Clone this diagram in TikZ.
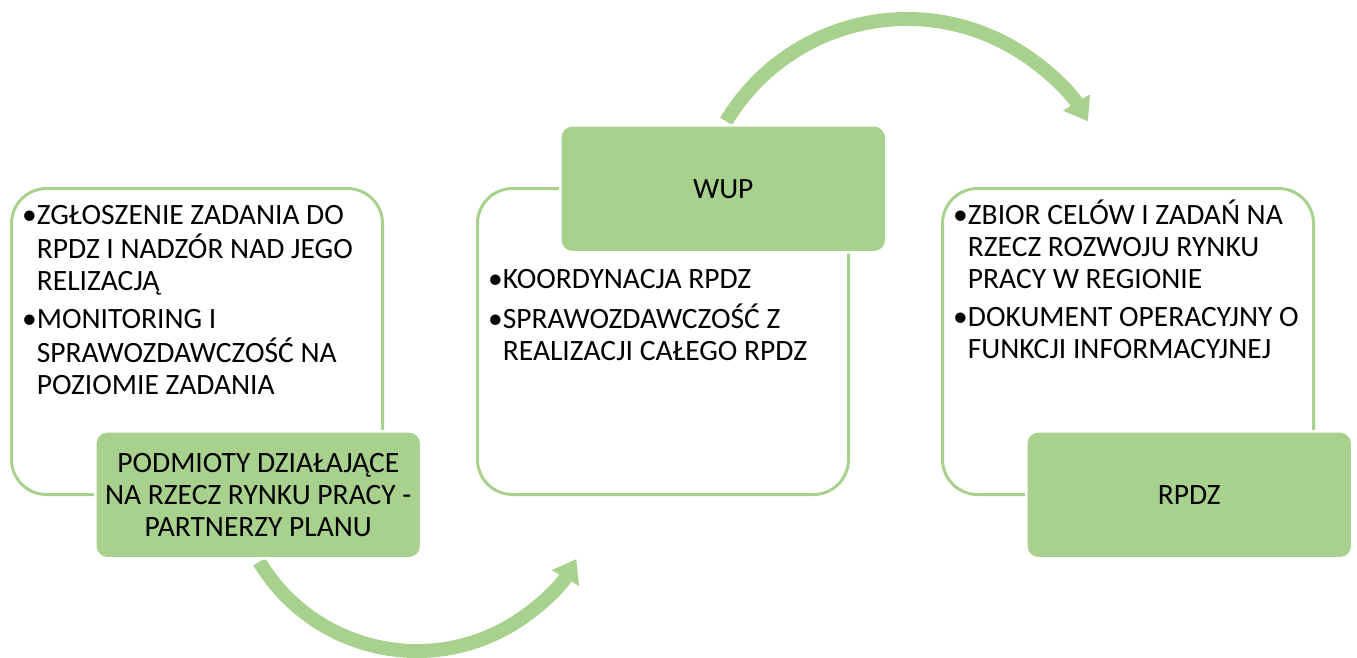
\documentclass[tikz,border=0pt]{standalone}
\usepackage{fontspec}
\setmainfont{Carlito}
\usetikzlibrary{arrows.meta,calc}
\definecolor{lg}{HTML}{A9D18E}
\tikzset{
 outerbox/.style={draw=lg, line width=3pt, fill=white, rounded corners=35pt, anchor=north west, inner sep=0pt, minimum width=371pt, minimum height=306pt},
 headbox/.style={fill=lg, draw=white, line width=2.5pt, rounded corners=12pt, anchor=north west, inner sep=0pt, minimum width=326pt, minimum height=127pt, align=center, font=\fontsize{29.5}{32}\selectfont},
 bodytext/.style={anchor=base west, inner sep=0pt, font=\fontsize{29.5}{32}\selectfont},
 flow/.style={draw=lg, line width=14pt, -{Triangle[width=30pt,length=22pt]}},
}
\begin{document}
\begin{tikzpicture}[x=1pt,y=-1pt]
\useasboundingbox (0,0) rectangle (1357,657);
% arrows (behind the boxes)
\coordinate (a1s) at ($(417,467)+(149:184)$);
\coordinate (a2s) at ($(907,230)+(-149:211)$);
\draw[flow] (a1s) arc[start angle=149, end angle=30, radius=184];
\draw[flow] (a2s) arc[start angle=-149, end angle=-31, radius=211];
% outer white boxes
\node[outerbox] (b1) at (10,187) {};
\node[outerbox] (b2) at (476,187) {};
\node[outerbox] (b3) at (941,187) {};
% green head boxes
\node[headbox] (h1) at (94,430) {PODMIOTY DZIAŁAJĄCE\\NA RZECZ RYNKU PRACY -\\PARTNERZY PLANU};
\node[headbox] (h2) at (559,124) {WUP};
\node[headbox] (h3) at (1025,430) {RPDZ};
% body texts
\node[bodytext] (t1) at (22,224) {\begin{tabular}[t]{@{}l@{}l@{}}•&ZGŁOSZENIE ZADANIA DO\\ &RPDZ I NADZÓR NAD JEGO\\ &RELIZACJĄ\\[6pt] •&MONITORING I\\ &SPRAWOZDAWCZOŚĆ NA\\ &POZIOMIE ZADANIA\end{tabular}};
\node[bodytext] (t2) at (488,288) {\begin{tabular}[t]{@{}l@{}l@{}}•&KOORDYNACJA RPDZ\\[6pt] •&SPRAWOZDAWCZOŚĆ Z\\ &REALIZACJI CAŁEGO RPDZ\end{tabular}};
\node[bodytext] (t3) at (953,224) {\begin{tabular}[t]{@{}l@{}l@{}}•&ZBIOR CELÓW I ZADAŃ NA\\ &RZECZ ROZWOJU RYNKU\\ &PRACY W REGIONIE\\[6pt] •&DOKUMENT OPERACYJNY O\\ &FUNKCJI INFORMACYJNEJ\end{tabular}};
\end{tikzpicture}
\end{document}
